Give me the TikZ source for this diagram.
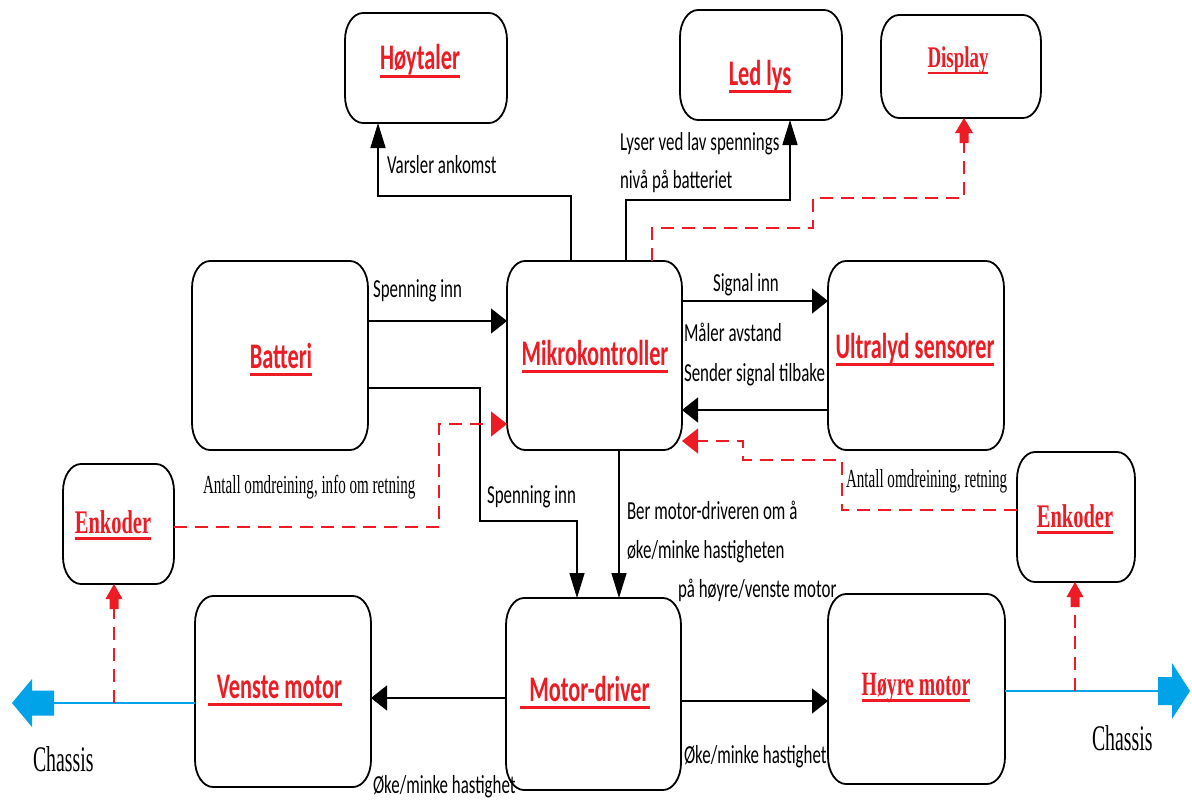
\documentclass[tikz,border=0pt]{standalone}
\usepackage{fontspec}
\usepackage{graphicx}
\usetikzlibrary{arrows.meta,calc}
\newfontfamily\calfont{Carlito}
\newfontfamily\tmsfont{Liberation Serif}
\definecolor{myred}{HTML}{ED1C24}
\definecolor{myblue}{HTML}{00A2E8}
\newsavebox\ulbox
\newcommand\ulx[1]{\sbox\ulbox{#1}\rlap{\rule[-0.21em]{\wd\ulbox}{0.08em}}\usebox\ulbox}
\newcommand\sqz[2]{\scalebox{#1}[1]{#2}}
\tikzset{
  boxnode/.style={rectangle,inner sep=0pt,outer sep=0pt,draw=none},
  boxline/.style={draw=black,line width=1.8pt},
  blk/.style={draw=black,line width=1.5pt},
  rdash/.style={draw=myred,line width=1.5pt,dash pattern=on 13pt off 8pt},
  bl/.style={draw=myblue,line width=2pt},
  hhead/.style={-{Triangle[length=16pt,width=25pt]}},
  vhead/.style={-{Triangle[length=25pt,width=15pt]}},
  lbl/.style={anchor=base west,inner sep=0pt,outer sep=0pt,font=\calfont\fontsize{26}{30}\selectfont},
  tlbl/.style={anchor=base west,inner sep=0pt,outer sep=0pt,font=\tmsfont\fontsize{26}{30}\selectfont},
  ttl/.style={anchor=base,inner sep=0pt,outer sep=0pt,text=myred,font=\calfont\bfseries\fontsize{36}{40}\selectfont},
  tttl/.style={anchor=base,inner sep=0pt,outer sep=0pt,text=myred,font=\tmsfont\bfseries\fontsize{33}{36}\selectfont},
  tbttl/.style={anchor=base,inner sep=0pt,outer sep=0pt,text=myred,font=\tmsfont\bfseries\fontsize{34}{36}\selectfont},
}
\newcommand\rbox[5]{%
  \node[boxnode,minimum width={(#4-#2)*1pt},minimum height={(#5-#3)*1pt}] (#1) at ({(#2+#4)/2},{(#3+#5)/2}) {};
  \draw[boxline] ([xshift=18pt]#1.north west) -- ([xshift=-18pt]#1.north east)
    arc[start angle=90,end angle=0,x radius=18pt,y radius=27pt]
    -- ([yshift=27pt]#1.south east)
    arc[start angle=0,end angle=-90,x radius=18pt,y radius=27pt]
    -- ([xshift=18pt]#1.south west)
    arc[start angle=270,end angle=180,x radius=18pt,y radius=27pt]
    -- ([yshift=-27pt]#1.north west)
    arc[start angle=180,end angle=90,x radius=18pt,y radius=27pt] -- cycle;}
\begin{document}
\begin{tikzpicture}[x=1pt,y=-1pt]
\useasboundingbox (0,0) rectangle (1192,800);
\fill[white] (0,0) rectangle (1192,800);

% boxes
\rbox{hoy}{345}{13}{507}{123}
\rbox{led}{680}{10}{842}{120}
\rbox{dis}{881}{15}{1041}{118}
\rbox{bat}{192}{261}{368}{450}
\rbox{mik}{507}{261}{682}{450}
\rbox{ult}{828}{261}{1004}{450}
\rbox{enl}{63}{464}{174}{584}
\rbox{enr}{1017}{452}{1135}{582}
\rbox{ven}{195}{596}{371}{787}
\rbox{drv}{506}{598}{681}{790}
\rbox{hyr}{828}{594}{1005}{784}

% titles
\node[ttl] (thoy) at (420,70) {\sqz{0.62}{\ulx{Høytaler}}};
\node[ttl] (tled) at (760,85) {\sqz{0.62}{\ulx{Led lys}}};
\node[tbttl,font=\tmsfont\bfseries\fontsize{30}{34}\selectfont] (tdis) at (958,68) {\sqz{0.63}{\ulx{Display}}};
\node[ttl] (tbat) at (281,368) {\sqz{0.62}{\ulx{Batteri}}};
\node[ttl] (tmik) at (595,365) {\sqz{0.62}{\ulx{Mikrokontroller}}};
\node[ttl] (tult) at (915,358) {\sqz{0.62}{\ulx{Ultralyd sensorer}}};
\node[tttl] (tenl) at (113,533) {\sqz{0.62}{\ulx{Enkoder}}};
\node[tttl] (tenr) at (1075,527) {\sqz{0.62}{\ulx{Enkoder}}};
\node[ttl] (tven) at (275,698) {\sqz{0.62}{\ulx{\hspace{0.4em}Venste motor}}};
\node[ttl] (tdrv) at (585,701) {\sqz{0.62}{\ulx{\hspace{0.4em}Motor-driver}}};
\node[tbttl] (thyr) at (916,695) {\sqz{0.58}{\ulx{Høyre motor}}};

% labels
\node[lbl] (l1) at (387,173) {\sqz{0.65}{Varsler ankomst}};
\node[lbl] (l2) at (620,150) {\sqz{0.65}{Lyser ved lav spennings}};
\node[lbl] (l3) at (620,188) {\sqz{0.65}{nivå på batteriet}};
\node[lbl] (l4) at (373,297) {\sqz{0.65}{Spenning inn}};
\node[lbl] (l5) at (487,503) {\sqz{0.65}{Spenning inn}};
\node[lbl] (l6) at (713,291) {\sqz{0.65}{Signal inn}};
\node[lbl] (l7) at (684,341) {\sqz{0.65}{Måler avstand}};
\node[lbl] (l8) at (684,381) {\sqz{0.65}{Sender signal tilbake}};
\node[lbl] (l9) at (627,519) {\sqz{0.65}{Ber motor-driveren om å}};
\node[lbl] (l10) at (627,558) {\sqz{0.65}{øke/minke hastigheten}};
\node[lbl] (l11) at (678,597) {\sqz{0.65}{på høyre/venste motor}};
\node[lbl] (l12) at (373,793) {\sqz{0.65}{Øke/minke hastighet}};
\node[lbl] (l13) at (684,763) {\sqz{0.65}{Øke/minke hastighet}};
\node[tlbl] (l14) at (203,493) {\sqz{0.58}{Antall omdreining, info om retning}};
\node[tlbl] (l15) at (846,487) {\sqz{0.58}{Antall omdreining, retning}};
\node[tlbl,font=\tmsfont\fontsize{36}{40}\selectfont] (l16) at (33,771) {\sqz{0.55}{Chassis}};
\node[tlbl,font=\tmsfont\fontsize{36}{40}\selectfont] (l17) at (1092,750) {\sqz{0.55}{Chassis}};

% Mikro -> Hoytaler
\coordinate (a1) at (571,196); \coordinate (a2) at (378,196);
\draw[blk,vhead] (mik.north -| a1) -- (a1) -- (a2) -- (hoy.south -| a2);
% Mikro -> Led lys
\coordinate (b1) at (626,200); \coordinate (b2) at (790,200);
\draw[blk,vhead] (mik.north -| b1) -- (b1) -- (b2) -- (led.south -| b2);
% Mikro -> Display
\coordinate (c1) at (652,228); \coordinate (c2) at (813,228);
\coordinate (c3) at (813,198); \coordinate (c4) at (964,198); \coordinate (c5) at (964,143);
\draw[rdash] (mik.north -| c1) -- (c1) -- (c2) -- (c3) -- (c4) -- (c5);
\fill[myred] (dis.south -| c4) -- ++(9,15) -- ++(-4.5,0) -- ++(0,10) -- ++(-9,0) -- ++(0,-10) -- ++(-4.5,0) -- cycle;
% Batteri -> Mikro
\coordinate (d1) at (0,321);
\draw[blk,hhead] (bat.east |- d1) -- (mik.west |- d1);
% Batteri -> Motor-driver
\coordinate (e1) at (480,388); \coordinate (e2) at (480,521); \coordinate (e3) at (577,521);
\draw[blk,vhead] (bat.east |- e1) -- (e1) -- (e2) -- (e3) -- (drv.north -| e3);
% Mikro -> Motor-driver
\coordinate (f1) at (619,0);
\draw[blk,vhead] (mik.south -| f1) -- (drv.north -| f1);
% Mikro <-> Ultralyd
\coordinate (g1) at (0,301); \coordinate (g2) at (0,410);
\draw[blk,hhead] (mik.east |- g1) -- (ult.west |- g1);
\draw[blk,hhead] (ult.west |- g2) -- (mik.east |- g2);
% Enkoder left -> Mikro
\coordinate (h1) at (439,527); \coordinate (h2) at (439,424);
\draw[rdash,hhead] (enl.east |- h1) -- (h1) -- (h2) -- (mik.west |- h2);
% Enkoder right -> Mikro
\coordinate (i1) at (842,510); \coordinate (i2) at (842,460);
\coordinate (i3) at (743,460); \coordinate (i4) at (743,441);
\draw[rdash,hhead] (enr.west |- i1) -- (i1) -- (i2) -- (i3) -- (i4) -- (mik.east |- i4);
% Motor-driver -> motors
\coordinate (j1) at (0,698); \coordinate (j2) at (0,701);
\draw[blk,hhead] (drv.west |- j1) -- (ven.east |- j1);
\draw[blk,hhead] (drv.east |- j2) -- (hyr.west |- j2);
% Chassis left
\coordinate (k1) at (54,703);
\draw[bl] (ven.west |- k1) -- (k1);
\fill[myblue] (k1) ++(0,-12.5) -- ++(-22,0) -- ++(0,-11.5) -- ++(-20,24) -- ++(20,24) -- ++(0,-11.5) -- ++(22,0) -- cycle;
% Chassis right
\coordinate (k2) at (1158,691);
\draw[bl] (hyr.east |- k2) -- (k2);
\fill[myblue] (k2) ++(0,-14) -- ++(14,0) -- ++(0,-14) -- ++(18,28) -- ++(-18,28) -- ++(0,-14) -- ++(-14,0) -- cycle;
% motors -> Enkoder
\coordinate (m1) at (114,703); \coordinate (m2) at (114,609);
\draw[rdash] (m1) -- (m2);
\fill[myred] (enl.south -| m1) -- ++(8.5,15) -- ++(-4,0) -- ++(0,10) -- ++(-9,0) -- ++(0,-10) -- ++(-4,0) -- cycle;
\coordinate (n1) at (1075,691); \coordinate (n2) at (1075,607);
\draw[rdash] (n1) -- (n2);
\fill[myred] (enr.south -| n1) -- ++(8.5,15) -- ++(-4,0) -- ++(0,10) -- ++(-9,0) -- ++(0,-10) -- ++(-4,0) -- cycle;
\end{tikzpicture}
\end{document}
